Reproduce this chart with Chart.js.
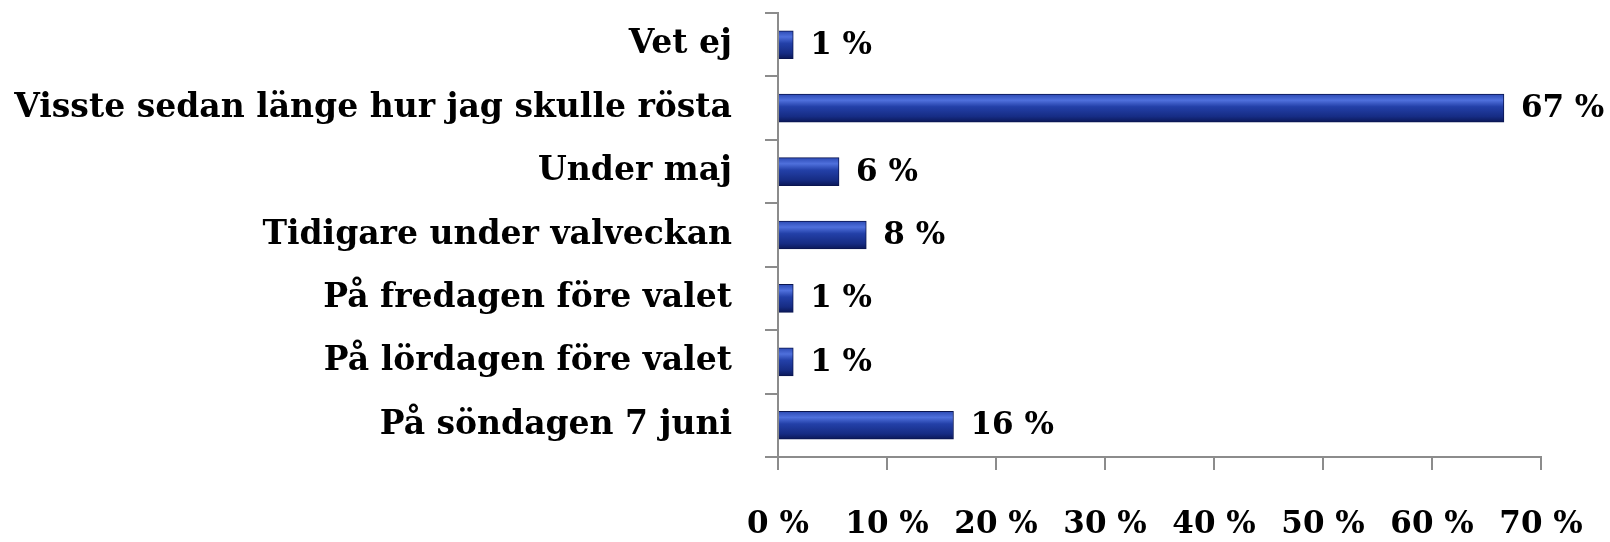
<!DOCTYPE html>
<html lang="sv">
<head>
<meta charset="UTF-8">
<title>När bestämde du dig</title>
<script src="https://cdn.jsdelivr.net/npm/chart.js"></script>
<style>
  html, body { margin: 0; padding: 0; background: #fff; }
  #wrap { width: 1610px; height: 542px; }
</style>
</head>
<body>
<div id="wrap"><canvas id="chart" width="1610" height="542"></canvas></div>
<script>
// Kategorier och värden (procent)
const categories = [
  'Vet ej',
  'Visste sedan länge hur jag skulle rösta',
  'Under maj',
  'Tidigare under valveckan',
  'På fredagen före valet',
  'På lördagen före valet',
  'På söndagen 7 juni'
];
const values = [1.4, 66.6, 5.6, 8.1, 1.4, 1.4, 16.1];
const valueLabels = ['1 %', '67 %', '6 %', '8 %', '1 %', '1 %', '16 %'];
const xTicks = [0, 10, 20, 30, 40, 50, 60, 70];

const FONT = '"DejaVu Serif", "Liberation Serif", serif';
const BAR = 28;

// gradient per stapel, byggd från y-skalan
function barFill(ctx) {
  const chart = ctx.chart;
  const y = chart.scales.y;
  if (!y || ctx.dataIndex === undefined) return '#1f3a9c';
  const c = y.getPixelForValue(ctx.dataIndex);
  if (!isFinite(c)) return '#1f3a9c';
  const g = chart.ctx.createLinearGradient(0, c - BAR / 2, 0, c + BAR / 2);
  g.addColorStop(0, '#2c4ab4');
  g.addColorStop(0.22, '#4f70dc');
  g.addColorStop(0.45, '#2340a8');
  g.addColorStop(0.8, '#162c84');
  g.addColorStop(1, '#0b1858');
  return g;
}

// värdeetiketter till höger om staplarna
const valueLabelPlugin = {
  id: 'valueLabels',
  afterDatasetsDraw(chart) {
    const ctx = chart.ctx;
    const meta = chart.getDatasetMeta(0);
    ctx.save();
    ctx.font = 'bold 31px ' + FONT;
    ctx.fillStyle = '#000';
    ctx.textBaseline = 'middle';
    ctx.textAlign = 'left';
    meta.data.forEach((bar, i) => {
      ctx.fillText(valueLabels[i], bar.x + 17, bar.y + 1);
    });
    ctx.restore();
  }
};

new Chart(document.getElementById('chart'), {
  type: 'bar',
  data: {
    labels: categories,
    datasets: [{
      data: values,
      backgroundColor: barFill,
      borderColor: '#0a1550',
      borderWidth: 1,
      barThickness: BAR
    }]
  },
  options: {
    indexAxis: 'y',
    responsive: false,
    animation: false,
    layout: { padding: { top: 13, right: 69, left: 0, bottom: 0 } },
    plugins: {
      legend: { display: false },
      tooltip: { enabled: false }
    },
    scales: {
      x: {
        min: 0,
        max: 70,
        afterBuildTicks: (s) => { s.ticks = xTicks.map(v => ({ value: v })); },
        afterFit: (s) => { s.height = 85; s.paddingLeft = 0; s.paddingRight = 0; },
        grid: {
          drawOnChartArea: false,
          tickLength: 13,
          color: '#8c8c8c',
          lineWidth: 2
        },
        border: { color: '#8c8c8c', width: 2 },
        ticks: {
          padding: 36,
          color: '#000',
          font: { family: FONT, size: 31, weight: 'bold' },
          callback: (v) => v + ' %'
        }
      },
      y: {
        afterFit: (s) => { s.width = 778; s.paddingTop = 0; s.paddingBottom = 0; },
        grid: {
          offset: true,
          drawOnChartArea: false,
          tickLength: 13,
          color: '#8c8c8c',
          lineWidth: 2
        },
        border: { color: '#8c8c8c', width: 2 },
        ticks: {
          padding: 33,
          color: '#000',
          font: { family: FONT, size: 33, weight: 'bold' }
        }
      }
    }
  },
  plugins: [valueLabelPlugin]
});
</script>
</body>
</html>
